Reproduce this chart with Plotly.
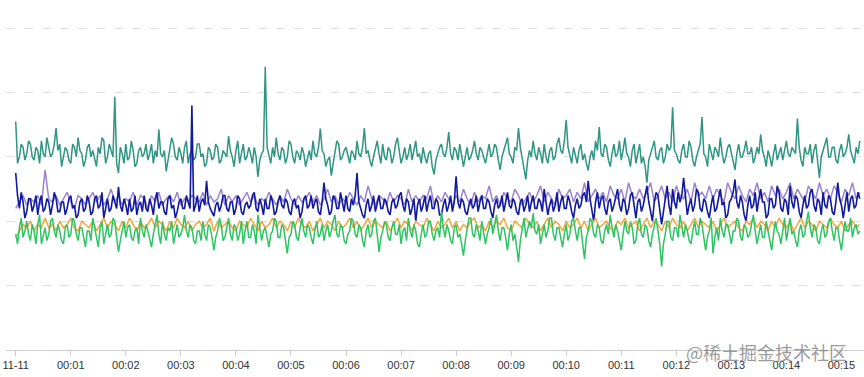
import pandas as pd
import plotly.graph_objects as go

START = pd.Timestamp("2023-11-11 00:00:00")

# teal series, one sample every 2 s
teal = [71, 58, 60, 64, 63, 59, 61, 65, 64, 60, 59, 63, 62, 58, 65, 61, 60, 66, 63, 60,
        61, 64, 69, 62, 64, 57, 60, 63, 62, 59, 58, 64, 63, 60, 66, 62, 61, 57, 59, 63,
        64, 60, 62, 59, 57, 63, 61, 66, 65, 58, 60, 64, 62, 60, 78.7, 58, 55, 63, 61, 58,
        64, 59, 60, 65, 62, 57, 58, 62, 63, 60, 61, 64, 59, 61, 64, 58, 62, 60, 68.5, 61,
        60, 62, 55.5, 59, 62, 66, 64, 60, 59, 63, 61, 58, 63, 65, 58, 61, 62, 59, 60, 64,
        64, 60, 61, 57, 58, 63, 62, 59, 60, 64, 63, 58, 59, 62, 61, 60, 66.5, 62, 60, 57,
        62, 65, 58, 61, 64, 59, 60, 63, 61, 58, 63, 60, 53.8, 59, 61, 62, 88, 63, 60, 58,
        63, 60, 66, 61, 59, 63, 62, 58, 60, 65, 64, 60, 58, 62, 61, 59, 63, 61, 57, 60,
        62, 59, 65, 61, 60, 63, 68.8, 62, 61, 57, 59, 60, 54.2, 58, 62, 65, 64, 59, 60, 62,
        63, 60, 58, 62, 61, 59, 65, 61, 60, 63, 69, 61, 62, 59, 57, 60, 63, 65, 61, 58,
        64, 60, 59, 63, 62, 58, 60, 64, 66, 61, 58, 60, 63, 59, 61, 64, 59, 62, 65, 60,
        61, 58, 63, 60, 58, 61, 62, 57, 54.6, 59, 61, 63, 64, 61, 60, 63, 67.7, 61, 59, 63,
        62, 59, 64, 61, 57, 60, 63, 59, 60, 62, 65, 61, 59, 63, 62, 60, 58, 61, 64, 60,
        61, 64, 63, 59, 56, 60, 62, 64, 66, 61, 60, 58, 63, 62, 69, 63, 60, 57, 53, 59,
        62, 60, 65, 61, 59, 63, 61, 58, 64, 60, 58, 62, 63, 59, 60, 64, 66, 62, 61, 65,
        71.5, 63, 60, 58, 63, 60, 58, 62, 64, 59, 61, 58, 55.8, 60, 62, 59, 65, 62, 69.3, 61,
        60, 64, 63, 59, 57, 61, 64, 60, 61, 65, 59, 62, 66, 61, 60, 57, 62, 64, 58, 61,
        64, 58, 60, 57, 52, 59, 61, 63, 65, 60, 59, 62, 63, 58, 60, 64, 62, 63, 75.4, 62,
        61, 59, 58, 62, 64, 60, 60, 65, 63, 59, 57, 60, 62, 64, 72.4, 61, 60, 57, 64, 61,
        59, 63, 62, 60, 66, 61, 58, 60, 63, 64, 61, 58, 56, 61, 64, 60, 60, 62, 65, 61,
        61, 63, 58, 60, 63, 61, 67, 62, 60, 57, 62, 60, 57, 61, 64, 59, 61, 63, 59, 62,
        65, 61, 60, 63, 62, 61, 71.9, 63, 59, 57, 63, 61, 61, 64, 58, 62, 64, 59, 53.5, 60,
        62, 64, 66, 60, 60, 63, 63, 59, 58, 62, 64, 60, 61, 63, 67, 62, 60, 58, 63, 61,
        65]

# dark blue series, one sample every 2 s
blue = [55, 48, 44, 49, 46, 41, 43, 47, 47, 43, 45, 48, 42, 46, 48, 43, 44, 47, 46, 42,
        45, 49, 47, 43, 43, 46, 46, 42, 44, 47, 48, 44, 45, 41, 42, 46, 47, 43, 44, 48,
        46, 42, 43, 47, 48, 44, 45, 49, 41, 44, 47, 43, 44, 48, 46, 44, 50.7, 45, 43, 47,
        45, 42, 47, 43, 44, 48, 42, 45, 46, 43, 48, 44, 43, 47, 45, 42, 47, 49, 44, 46,
        46, 43, 42, 47, 48, 44, 45, 41, 43, 46, 47, 44, 44, 48, 46, 44, 76, 43, 45, 48,
        43, 46, 47, 45, 52.6, 46, 44, 43, 41.6, 45, 46, 43, 45, 48, 48, 44, 43, 46, 46, 42,
        44, 48, 47, 43, 42, 45, 46, 44, 45, 48, 49, 44, 43, 47, 45, 42, 47, 44, 44, 48,
        46, 42, 43, 46, 48, 45, 44, 47, 46, 43, 42, 46, 47, 44, 45, 41, 43, 47, 48, 44,
        45, 48, 44, 46, 47, 43, 42, 46, 52, 47, 45, 42, 43, 48, 47, 44, 44, 49, 46, 43,
        48, 44, 43, 47, 45, 48, 55, 46, 44, 42, 41, 45, 47, 43, 45, 48, 43, 46, 48, 44,
        44, 47, 46, 43, 42, 46, 47, 44, 45, 48, 49, 45, 43, 47, 46, 42, 44, 47, 40, 45,
        47, 43, 45, 48, 43, 46, 48, 44, 44, 47, 46, 42, 42, 45, 47, 43, 45, 48, 43, 46,
        54, 46, 44, 47, 46, 43, 42, 45, 47, 44, 45, 48, 43, 46, 48, 44, 44, 47, 46, 43,
        41, 45, 47, 44, 45, 48, 43, 46, 49, 45, 44, 47, 46, 43, 42, 46, 47, 43, 45, 48,
        43, 46, 48, 44, 44, 47, 46, 43, 50, 46, 42, 45, 47, 43, 45, 49, 43, 46, 48, 44,
        44, 48, 46, 43, 41, 45, 47, 44, 45, 48, 49, 46, 52.6, 47, 43, 40, 46, 49, 44, 47,
        48, 44, 42, 46, 47, 43, 45, 48, 50, 45, 43, 47, 46, 42, 44, 48, 49, 45, 41, 46,
        47, 43, 45, 48, 51, 46, 43, 40, 46, 49, 48, 44, 39, 43, 47, 51, 45, 42, 50, 46,
        44, 49, 46, 48, 53.5, 47, 42, 45, 47, 43, 45, 50, 49, 44, 43, 47, 46, 43, 41, 45,
        48, 43, 44, 47, 50, 45, 46, 41, 42, 46, 47, 49, 53, 46, 44, 48, 46, 42, 40, 45,
        48, 44, 45, 49, 43, 47, 50, 46, 46, 41, 42, 47, 47, 44, 45, 51, 49, 44, 43, 47,
        46, 42, 51, 46, 44, 48, 47, 43, 41, 45, 48, 44, 45, 49, 50, 45, 43, 47, 46, 42,
        49, 45, 44, 48, 47, 43, 42, 46, 52, 47, 45, 41, 46, 49, 43, 47, 48, 44, 45, 49,
        47]

# green series, one sample every 2 s
green = [36, 33, 38, 41, 35, 37, 40, 36, 34, 39, 37, 33, 39, 42, 33, 36, 38, 34, 36, 40,
         41, 37, 35, 39, 37, 34, 33, 38, 39, 35, 36, 41, 40, 36, 34, 38, 38, 35, 32, 37,
         37, 34, 41, 38, 35, 32, 38, 40, 33, 36, 39, 35, 36, 41, 40, 35, 30.5, 34, 37, 40,
         35, 38, 39, 35, 34, 37, 38, 33, 41, 37, 35, 39, 37, 34, 32, 36, 39, 42, 36, 33,
         40, 36, 34, 38, 37, 40, 33, 36, 39, 35, 36, 38, 42, 37, 35, 39, 38, 34, 33, 37,
         37, 34, 40, 36, 34, 39, 38, 35, 31, 35, 37, 41, 39, 34, 35, 38, 41, 36, 34, 39,
         38, 34, 36, 40, 33, 37, 40, 35, 35, 39, 37, 33, 42, 38, 34, 37, 38, 35, 32, 36,
         37, 41, 40, 35, 35, 39, 38, 34, 30, 35, 36, 40, 39, 35, 34, 38, 41, 37, 35, 39,
         38, 35, 33, 37, 40, 35, 36, 39, 34, 37, 39, 35, 37, 40, 42, 36, 35, 39, 38, 34,
         33, 36, 37, 41, 40, 36, 35, 39, 38, 34, 32, 37, 39, 35, 36, 40, 41, 36, 30.5, 35,
         37, 40, 39, 35, 34, 38, 40, 36, 36, 39, 33, 37, 38, 34, 41, 37, 35, 39, 37, 33,
         32, 36, 39, 35, 36, 40, 40, 36, 34, 37, 38, 35, 43, 38, 35, 39, 37, 34, 33, 38,
         39, 35, 36, 33, 29.3, 34, 38, 41, 41, 36, 35, 39, 37, 34, 40, 37, 33, 36, 38, 41,
         36, 39, 42, 37, 34, 38, 38, 35, 31, 36, 39, 34, 36, 32, 27.4, 34, 38, 41, 35, 38,
         40, 38, 42.5, 37, 36, 39, 33, 36, 39, 35, 37, 41, 41, 36, 34, 38, 38, 35, 32, 36,
         39, 34, 36, 40, 41, 37, 34, 38, 38, 33, 28.3, 35, 37, 41, 40, 36, 35, 39, 38, 34,
         33, 37, 39, 36, 42, 38, 35, 39, 37, 34, 31, 36, 40, 37, 36, 40, 38, 33, 34, 39,
         41, 36, 35, 39, 38, 34, 32, 36, 39, 41, 37, 33, 26, 33, 36, 40, 40, 35, 34, 38,
         38, 35, 42, 38, 35, 39, 37, 34, 33, 37, 40, 36, 36, 41, 39, 35, 31, 35, 37, 41,
         30, 35, 38, 34, 41, 37, 35, 39, 39, 36, 33, 37, 37, 41, 40, 35, 34, 39, 38, 35,
         36, 39, 42, 37, 33, 36, 39, 35, 35, 40, 37, 34, 31, 36, 40, 37, 36, 33, 38, 41,
         34, 38, 41, 36, 37, 34, 32, 37, 39, 35, 36, 40, 43, 38, 35, 39, 38, 34, 33, 37,
         39, 35, 36, 40, 41, 37, 34, 38, 38, 34, 31, 36, 40, 37, 37, 41, 35, 38, 39, 36,
         37]

# purple series (mostly behind the blue one), one sample every 4 s
purple = [44, 46, 48, 45, 47, 46, 48, 45, 56, 47,
          46, 48, 45, 47, 49, 46, 44, 48, 47, 45,
          47, 49, 46, 48, 45, 47, 50, 46, 48, 45,
          47, 46, 49, 45, 48, 47, 44, 48, 46, 49,
          45, 47, 48, 46, 49, 45, 47, 46, 48, 47,
          46, 49, 45, 48, 46, 47, 50, 45, 48, 46,
          48, 45, 47, 49, 46, 48, 45, 47, 46, 49,
          47, 45, 48, 46, 50, 47, 45, 48, 46, 47,
          49, 46, 48, 45, 47, 50, 46, 48, 45, 47,
          46, 49, 47, 45, 48, 46, 51, 47, 45, 48,
          47, 45, 49, 46, 48, 47, 45, 50, 46, 48,
          46, 48, 47, 51, 45, 48, 46, 49, 47, 45,
          48, 46, 50, 47, 45, 49, 46, 48, 47, 51,
          46, 48, 45, 49, 47, 46, 50, 48, 45, 47,
          49, 46, 48, 51, 46, 49, 47, 45, 50, 47,
          48, 50, 46, 49, 47, 52, 46, 48, 50, 47,
          49, 46, 51, 48, 47, 50, 46, 52, 48, 47,
          50, 47, 49, 52, 46, 48, 51, 47, 49, 46,
          51, 48, 47, 50, 46, 52, 48, 49, 47, 51,
          47, 50, 48, 46, 52, 49, 47, 51, 48, 46,
          50, 48, 52, 47, 49, 46, 51, 48, 50, 47,
          49, 52, 47, 50, 48, 46, 51, 49, 47, 52,
          48, 50, 47, 51, 49, 46, 50, 48, 52, 47,
          49]

# orange series (mostly behind the green one), one sample every 4 s
orange = [35, 37, 39, 38, 40, 37, 39, 38, 41, 38,
          39, 37, 40, 38, 39, 41, 38, 37, 40, 39,
          38, 40, 37, 39, 41, 38, 40, 39, 37, 40,
          38, 41, 39, 37, 40, 38, 39, 41, 38, 40,
          39, 37, 40, 38, 41, 39, 38, 40, 37, 39,
          40, 38, 39, 41, 37, 40, 38, 39, 40, 38,
          37, 40, 39, 38, 41, 39, 37, 40, 38, 39,
          41, 38, 40, 39, 37, 40, 38, 41, 39, 38,
          40, 37, 39, 41, 38, 40, 39, 37, 40, 38,
          39, 41, 38, 40, 37, 39, 41, 38, 40, 39,
          38, 40, 37, 39, 41, 38, 40, 39, 37, 40,
          39, 38, 41, 39, 37, 40, 38, 39, 41, 38,
          40, 37, 39, 38, 40, 41, 38, 39, 37, 40,
          38, 40, 39, 41, 38, 37, 40, 39, 38, 41,
          39, 38, 40, 37, 39, 41, 38, 40, 39, 37,
          40, 38, 39, 41, 38, 40, 37, 39, 41, 38,
          39, 40, 38, 37, 40, 39, 41, 38, 39, 40,
          37, 39, 41, 38, 40, 39, 37, 40, 38, 41,
          39, 38, 40, 37, 39, 41, 38, 40, 39, 38,
          40, 37, 39, 41, 38, 39, 40, 38, 37, 40,
          39, 41, 38, 40, 39, 37, 40, 38, 41, 39,
          38, 40, 37, 39, 41, 38, 40, 39, 37, 40,
          39, 38, 41, 39, 38, 40, 37, 39, 40, 38,
          39]

tick_times = pd.date_range(START, periods=16, freq="60s")
tick_labels = ["11-11"] + [f"00:{m:02d}" for m in range(1, 16)]
grid_values = [20, 40, 60, 80, 100]

series = [
    ("teal", teal, "2s", "#2f9683", 1.5),
    ("purple", purple, "4s", "#9a82d4", 1.5),
    ("blue", blue, "2s", "#1019a0", 1.6),
    ("orange", orange, "4s", "#f3a63b", 1.5),
    ("green", green, "2s", "#2fc463", 1.5),
]

fig = go.Figure()
for name, vals, step, col, w in series:
    xs = pd.date_range(START, periods=len(vals), freq=step)
    fig.add_trace(go.Scatter(x=xs, y=vals, mode="lines", name=name,
                             line=dict(color=col, width=w)))

x0 = START - pd.Timedelta(seconds=10.6)
x1 = START + pd.Timedelta(seconds=924.6)

fig.update_layout(
    width=864, height=377,
    margin=dict(l=6, r=0, t=25, b=27),
    paper_bgcolor="white", plot_bgcolor="white",
    showlegend=False,
    font=dict(family="Liberation Sans, Arial, sans-serif", size=11, color="#333"),
    xaxis=dict(range=[x0, x1], tickvals=tick_times, ticktext=tick_labels,
               showgrid=False, showline=True, linecolor="#cccccc", linewidth=1,
               ticks="outside", ticklen=5, tickcolor="#cccccc",
               tickfont=dict(size=11, color="#333"), zeroline=False),
    yaxis=dict(range=[0, 101], tickvals=grid_values, showticklabels=False,
               showgrid=True, gridcolor="#e0e0e0", griddash="dash", gridwidth=1,
               zeroline=False, showline=False),
    annotations=[dict(text="@稀土掘金技术社区", xref="paper", yref="paper",
                      x=0.982, y=-0.006, xanchor="right", yanchor="middle",
                      showarrow=False,
                      font=dict(family="Noto Sans CJK SC", size=18,
                                color="rgba(110,110,110,0.7)"))],
)

fig.write_html("out.html", config={"displayModeBar": False},
               post_script="document.body.style.margin='0';")
